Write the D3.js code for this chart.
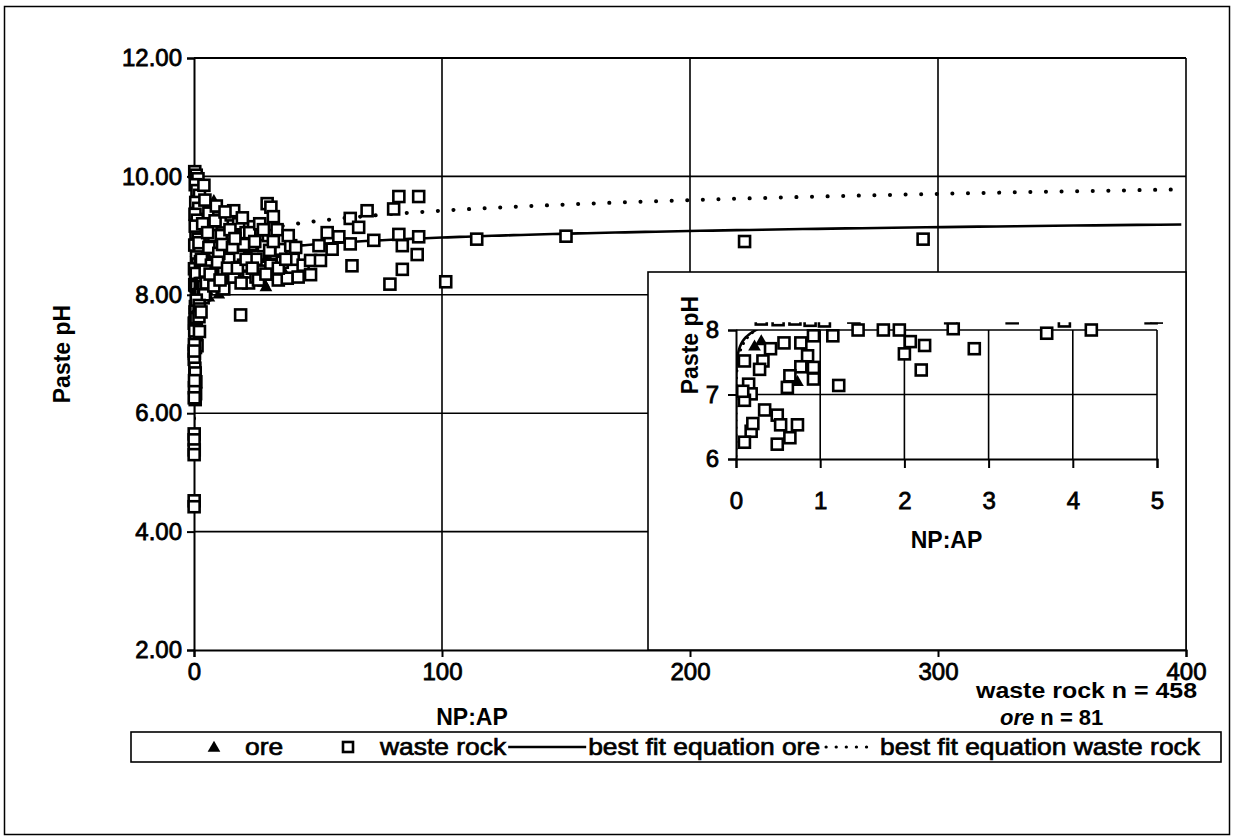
<!DOCTYPE html>
<html>
<head>
<meta charset="utf-8">
<script src="https://cdn.jsdelivr.net/npm/d3@7"></script>
<style>
  html, body { margin: 0; padding: 0; background: #fff; }
  svg { display: block; font-family: "Liberation Sans", Arial, Helvetica, sans-serif; }
</style>
</head>
<body>
<svg id="chart" width="1234" height="838"></svg>
<script>
// ---- data: NP:AP ratio and paste pH ----
const wasteNpAp = [
  0.3, 0.9, 1.6, 0.5, 1.2, 2.2, 0.7, 1.9, 0.4, 1.3, 2.6, 0.8, 1.7, 0.3, 2.3, 1.0, 1.5, 0.2, 2.8, 0.6, 1.4, 0.9, 2.0, 0.5, 2.6,
  0.3, 0.5, 0.7, 0.88, 1.05, 1.15, 1.45, 1.75, 1.94, 2.58, 2.55, 3.28, 3.9, 4.93, 3.69, 4.22,
  0.1, 0.32, 0.41, 0.57, 0.77, 0.92, 0.85, 0.77, 0.92, 0.92, 0.64, 0.61, 1.22, 0.15, 0.18, 0.1, 0.34, 0.49, 0.73, 0.53,
  0.64, 0.49, 0.18, 0.1, 0.28, 0.08, 0.2, 2.07, 2.24, 2.0, 2.2, 2.83,
  0.08, 0.05, 0.1, 0.06, 0.07, 0.05,
  4, 4.4, 6, 7, 8, 9, 10, 11.4, 12, 13, 14, 15, 16, 17, 18, 18.8, 18, 18.8, 20, 21, 22, 23, 24, 25, 26, 27, 28, 29.5, 31,
  30, 31, 32, 33, 34, 35, 35.6, 36, 37.6, 39, 40, 42, 3, 5, 7, 9, 12, 14, 16, 22, 25, 3.5, 6, 10, 4.5, 8, 11, 20, 27,
  5.5, 6.5, 8.5, 9.5, 10.5, 11.5, 12.5, 13.5, 14.5, 15.5, 16.5, 17.5, 19, 19.5, 21, 22.5, 23.5, 24.5, 26, 26.5,
  28, 29, 30.5, 32, 33.5, 34, 37, 38, 41, 44,
  47, 47, 51, 50.4, 55.7, 53.7, 58.4, 63, 66.4, 63, 63.7, 69.8, 72.5, 80.5, 82.6, 90.6, 82.6, 84, 90.6, 90, 84, 79,
  101.5, 114, 150, 222, 294
];
const wastePh = [
  10.08, 10.02, 9.96, 9.86, 9.76, 9.68, 9.56, 9.46, 9.36, 9.26, 9.14, 9.04, 8.94, 8.84, 8.74, 8.64, 8.52, 8.44, 8.34, 8.26, 8.2, 8.36, 8.88, 9.16, 8.56,
  8.17, 8.16, 8.17, 8.15, 8.14, 7.91, 8.0, 8.0, 8.0, 8.02, 8.19, 8.19, 8.14, 8.19, 7.95, 8.0,
  7.52, 7.52, 7.71, 7.8, 7.8, 7.91, 7.6, 7.43, 7.42, 7.24, 7.29, 7.11, 7.14, 7.16, 7.01, 6.91, 6.76, 6.68, 6.53, 6.53,
  6.33, 6.23, 6.43, 6.26, 7.39, 7.05, 6.55, 7.82, 7.76, 7.63, 7.38, 7.71,
  5.65, 5.55, 5.38, 5.3, 4.52, 4.42,
  9.85, 9.6, 9.38, 9.15, 9.0, 8.8, 9.3, 9.23, 8.4, 8.9, 8.95, 9.35, 9.42, 8.7, 9.2, 8.98, 8.65, 7.66, 8.5, 9.05, 8.3, 8.85, 9.15, 8.6, 8.95, 8.4, 8.83, 9.54, 9.48,
  9.0, 8.5, 9.32, 8.7, 8.25, 8.77, 8.55, 8.95, 8.28, 8.83, 8.6, 8.3, 8.6, 8.2, 8.5, 9.5, 8.1, 8.6, 8.3, 8.2, 8.3, 9.2, 8.8, 8.7, 8.4, 8.15, 9.0, 8.85, 9.1,
  9.05, 8.35, 9.25, 8.55, 8.25, 8.85, 9.4, 8.45, 9.1, 8.8, 8.95, 8.45, 8.2, 9.3, 8.6, 9.05, 8.45, 8.9, 8.25, 9.2,
  9.1, 8.35, 8.75, 8.9, 9.1, 8.45, 8.6, 9.0, 8.8, 8.5,
  8.58, 8.34, 8.58, 8.83, 8.77, 9.05, 8.98, 9.29, 9.14, 8.86, 8.49, 9.42, 8.92, 9.45, 9.66, 9.66, 9.02, 8.83, 8.98, 8.68, 8.43, 8.18,
  8.22, 8.94, 8.99, 8.9, 8.94
];
const oreNpAp = [
  0.3, 0.73, 0.22, 2, 3, 5, 7, 8, 4, 10, 12, 6, 15, 18, 20, 24, 26, 28, 30, 32, 34, 14, 22, 9, 11, 3,
  1.5, 2.5, 16, 27, 36, 13, 6, 1, 1.2, 0.8, 19, 25, 33, 29, 8, 29, 10, 5.5
];
const orePh = [
  7.82, 7.19, 7.74, 9.7, 9.55, 9.45, 9.5, 9.1, 8.9, 8.8, 9.2, 8.6, 8.5, 8.3, 9.0, 8.55, 8.35, 8.2, 8.3, 8.45, 8.6, 8.25, 8.7, 8.4, 8.1, 8.2,
  8.5, 9.0, 9.1, 8.9, 8.4, 8.75, 7.95, 9.9, 9.3, 8.7, 8.9, 9.05, 8.9, 8.6, 9.58, 8.12, 8.0, 8.05
];

// ---- axis ticks ----
const mainPhTicks = [2, 4, 6, 8, 10, 12];
const mainRatioTicks = [0, 100, 200, 300, 400];
const insetPhTicks = [6, 7, 8];
const insetRatioTicks = [0, 1, 2, 3, 4, 5];

// ---- best fit equations ----
const oreFitIntercept = 8.23, oreFitSlope = 0.16;  // pH = a + b ln(NP:AP)
const wasteFitCoef = 8.32, wasteFitExp = 0.027;    // pH = a * (NP:AP)^b
const oreFit = r => oreFitIntercept + oreFitSlope * Math.log(r);
const wasteFit = r => wasteFitCoef * Math.pow(r, wasteFitExp);

const legendLabels = ["ore", "waste rock", "best fit equation ore", "best fit equation waste rock"];
const countLabels = ["waste rock n = 458", "n = 81"];

const waste = wasteNpAp.map((r, i) => ({ r, ph: wastePh[i] }));
const ore = oreNpAp.map((r, i) => ({ r, ph: orePh[i] }));
const curveRatios = d3.range(-7, Math.log10(400) + 0.0001, 0.01).map(e => Math.pow(10, e));

const svg = d3.select("#chart");

// outer chart frame
svg.append("rect").attr("x", 4.5).attr("y", 6.5).attr("width", 1225).attr("height", 828)
  .attr("fill", "none").attr("stroke", "#000").attr("stroke-width", 1.5);

// ---- main plot ----
const x = d3.scaleLinear().domain([0, 400]).range([194, 1186]);
const y = d3.scaleLinear().domain([2, 12]).range([650, 58]);

const main = svg.append("g");
main.selectAll("line.hgrid").data(mainPhTicks.filter(d => d > 2)).join("line")
  .attr("x1", x(0)).attr("x2", x(400)).attr("y1", d => y(d)).attr("y2", d => y(d))
  .attr("stroke", "#000").attr("stroke-width", d => d === 12 ? 2.2 : 1.6);
main.selectAll("line.vgrid").data(mainRatioTicks.filter(d => d > 0)).join("line")
  .attr("x1", d => x(d)).attr("x2", d => x(d)).attr("y1", y(12)).attr("y2", y(2))
  .attr("stroke", "#000").attr("stroke-width", 1.6);

const tickFont = '"Liberation Sans", Arial, sans-serif';
const yAxis = main.append("g").attr("transform", `translate(${x(0)},0)`)
  .call(d3.axisLeft(y).tickValues(mainPhTicks).tickSize(7).tickPadding(5).tickFormat(d3.format(".2f")));
const xAxis = main.append("g").attr("transform", `translate(0,${y(2)})`)
  .call(d3.axisBottom(x).tickValues(mainRatioTicks).tickSize(7).tickPadding(6).tickFormat(d3.format("d")));
[yAxis, xAxis].forEach(a => {
  a.select(".domain").attr("stroke", "#000").attr("stroke-width", 2);
  a.selectAll(".tick line").attr("stroke", "#000").attr("stroke-width", 2);
  a.selectAll(".tick text").attr("fill", "#000").attr("font-size", 24).attr("font-family", tickFont)
    .attr("stroke", "#000").attr("stroke-width", 0.8);
});

svg.append("clipPath").attr("id", "mainClip").append("rect")
  .attr("x", x(0)).attr("y", y(12)).attr("width", x(400) - x(0)).attr("height", y(2) - y(12));

const mainLine = fn => d3.line().x(r => x(r)).y(r => y(fn(r)))(curveRatios);
main.append("path").attr("d", mainLine(oreFit)).attr("clip-path", "url(#mainClip)")
  .attr("fill", "none").attr("stroke", "#000").attr("stroke-width", 2.6);
main.append("path").attr("d", mainLine(wasteFit)).attr("clip-path", "url(#mainClip)")
  .attr("fill", "none").attr("stroke", "#000").attr("stroke-width", 4)
  .attr("stroke-linecap", "round").attr("stroke-dasharray", "0.1 15.5");

const tri = d3.symbol().type(d3.symbolTriangle).size(70);
main.selectAll("path.ore").data(ore).join("path")
  .attr("transform", d => `translate(${x(d.r)},${y(d.ph)})`).attr("d", tri).attr("fill", "#000");
main.selectAll("rect.waste").data(waste).join("rect")
  .attr("x", d => x(d.r) - 5.5).attr("y", d => y(d.ph) - 5.5).attr("width", 11).attr("height", 11)
  .attr("fill", "#fff").attr("stroke", "#000").attr("stroke-width", 2.6);

// axis titles
svg.append("text").attr("transform", `translate(70,${(y(2) + y(12)) / 2}) rotate(-90)`)
  .attr("text-anchor", "middle").attr("font-weight", "bold").attr("font-size", 23).text("Paste pH");
svg.append("text").attr("x", 472).attr("y", 725)
  .attr("text-anchor", "middle").attr("font-weight", "bold").attr("font-size", 23).text("NP:AP");

// sample counts
svg.append("text").attr("x", 976).attr("y", 698).attr("font-weight", "bold").attr("font-size", 22)
  .attr("textLength", 221).attr("lengthAdjust", "spacingAndGlyphs").text(countLabels[0]);
const oreCount = svg.append("text").attr("x", 1000).attr("y", 725).attr("font-weight", "bold").attr("font-size", 22);
oreCount.append("tspan").attr("font-style", "italic").text("ore ");
oreCount.append("tspan").text(countLabels[1]);

// ---- inset: zoom on low NP:AP ----
const xi = d3.scaleLinear().domain([0, 5]).range([736, 1157]);
const yi = d3.scaleLinear().domain([6, 8]).range([459, 330]);
const inset = svg.append("g");
inset.append("rect").attr("x", 648).attr("y", 272).attr("width", x(400) - 648).attr("height", y(2) - 272)
  .attr("fill", "#fff").attr("stroke", "#000").attr("stroke-width", 1.6);

inset.selectAll("line.hgrid").data(insetPhTicks.filter(d => d > 6)).join("line")
  .attr("x1", xi(0)).attr("x2", xi(5)).attr("y1", d => yi(d)).attr("y2", d => yi(d))
  .attr("stroke", "#000").attr("stroke-width", 1.6);
inset.selectAll("line.vgrid").data(insetRatioTicks.filter(d => d > 0)).join("line")
  .attr("x1", d => xi(d)).attr("x2", d => xi(d)).attr("y1", yi(8)).attr("y2", yi(6))
  .attr("stroke", "#000").attr("stroke-width", 1.6);

const yiAxis = inset.append("g").attr("transform", `translate(${xi(0)},0)`)
  .call(d3.axisLeft(yi).tickValues(insetPhTicks).tickSize(8).tickPadding(9).tickFormat(d3.format("d")));
const xiAxis = inset.append("g").attr("transform", `translate(0,${yi(6)})`)
  .call(d3.axisBottom(xi).tickValues(insetRatioTicks).tickSize(9).tickPadding(24).tickFormat(d3.format("d")));
[yiAxis, xiAxis].forEach(a => {
  a.select(".domain").attr("stroke", "#000").attr("stroke-width", 2);
  a.selectAll(".tick line").attr("stroke", "#000").attr("stroke-width", 2);
  a.selectAll(".tick text").attr("fill", "#000").attr("font-size", 24).attr("font-family", tickFont)
    .attr("stroke", "#000").attr("stroke-width", 0.8);
});

svg.append("clipPath").attr("id", "insetLineClip").append("rect")
  .attr("x", xi(0)).attr("y", yi(8)).attr("width", xi(5) - xi(0)).attr("height", yi(6) - yi(8));
svg.append("clipPath").attr("id", "insetMarkClip").append("rect")
  .attr("x", xi(0) - 6).attr("y", yi(8.12)).attr("width", xi(5) - xi(0) + 12).attr("height", yi(6) - yi(8.12) + 6);

const insetRatios = curveRatios.filter(r => r <= 5.5);
const insetLine = fn => d3.line().x(r => xi(r)).y(r => yi(fn(r)))(insetRatios);
inset.append("path").attr("d", insetLine(oreFit)).attr("clip-path", "url(#insetLineClip)")
  .attr("fill", "none").attr("stroke", "#000").attr("stroke-width", 2.6);
inset.append("path").attr("d", insetLine(wasteFit)).attr("clip-path", "url(#insetLineClip)")
  .attr("fill", "none").attr("stroke", "#000").attr("stroke-width", 3)
  .attr("stroke-linecap", "round").attr("stroke-dasharray", "0.1 7");

const insetMarks = inset.append("g").attr("clip-path", "url(#insetMarkClip)");
insetMarks.selectAll("path.ore").data(ore.filter(d => d.r <= 5.2 && d.ph <= 8.3)).join("path")
  .attr("transform", d => `translate(${xi(d.r)},${yi(d.ph)})`).attr("d", tri).attr("fill", "#000");
insetMarks.selectAll("rect.waste").data(waste.filter(d => d.r <= 5.2 && d.ph <= 8.3 && d.ph >= 5.9)).join("rect")
  .attr("x", d => xi(d.r) - 5.5).attr("y", d => yi(d.ph) - 5.5).attr("width", 11).attr("height", 11)
  .attr("fill", "#fff").attr("stroke", "#000").attr("stroke-width", 2.6);

svg.append("text").attr("transform", "translate(698,345) rotate(-90)")
  .attr("text-anchor", "middle").attr("font-weight", "bold").attr("font-size", 23).text("Paste pH");
svg.append("text").attr("x", (xi(0) + xi(5)) / 2).attr("y", 548)
  .attr("text-anchor", "middle").attr("font-weight", "bold").attr("font-size", 23).text("NP:AP");

// ---- legend ----
const legend = svg.append("g");
const ly = 747;
const legendFont = 24, legendStretch = 1.1;
legend.append("rect").attr("x", 131).attr("y", 732).attr("width", 1090).attr("height", 30)
  .attr("fill", "#fff").attr("stroke", "#000").attr("stroke-width", 1.6);

// each entry: symbol, then its label placed right after
const entries = legend.selectAll("text").data(legendLabels).join("text")
  .attr("y", ly + 8).attr("font-size", legendFont)
  .attr("stroke", "#000").attr("stroke-width", 0.7).text(d => d);
const widths = entries.nodes().map(n => n.getComputedTextLength() * legendStretch);
entries.attr("textLength", (d, i) => widths[i]).attr("lengthAdjust", "spacingAndGlyphs");

const triX = 214, sqX = 348;
const oreX = 245, wasteX = 380;
const solidX1 = wasteX + widths[1] + 2, solidX2 = solidX1 + 78;
const oreFitX = solidX2 + 2;
const dotX1 = oreFitX + widths[2] + 6, dotX2 = dotX1 + 50;
const wasteFitX = dotX2 + 4;
entries.attr("x", (d, i) => [oreX, wasteX, oreFitX, wasteFitX][i]);

legend.append("path").attr("transform", `translate(${triX},${ly + 1})`).attr("d", tri).attr("fill", "#000");
legend.append("rect").attr("x", sqX - 5).attr("y", ly - 5).attr("width", 10).attr("height", 10)
  .attr("fill", "#fff").attr("stroke", "#000").attr("stroke-width", 2.6);
legend.append("line").attr("x1", solidX1).attr("x2", solidX2).attr("y1", ly).attr("y2", ly)
  .attr("stroke", "#000").attr("stroke-width", 2.6);
legend.append("line").attr("x1", dotX1).attr("x2", dotX2).attr("y1", ly).attr("y2", ly)
  .attr("stroke", "#000").attr("stroke-width", 3.2).attr("stroke-linecap", "round").attr("stroke-dasharray", "0.1 10");
</script>
</body>
</html>
